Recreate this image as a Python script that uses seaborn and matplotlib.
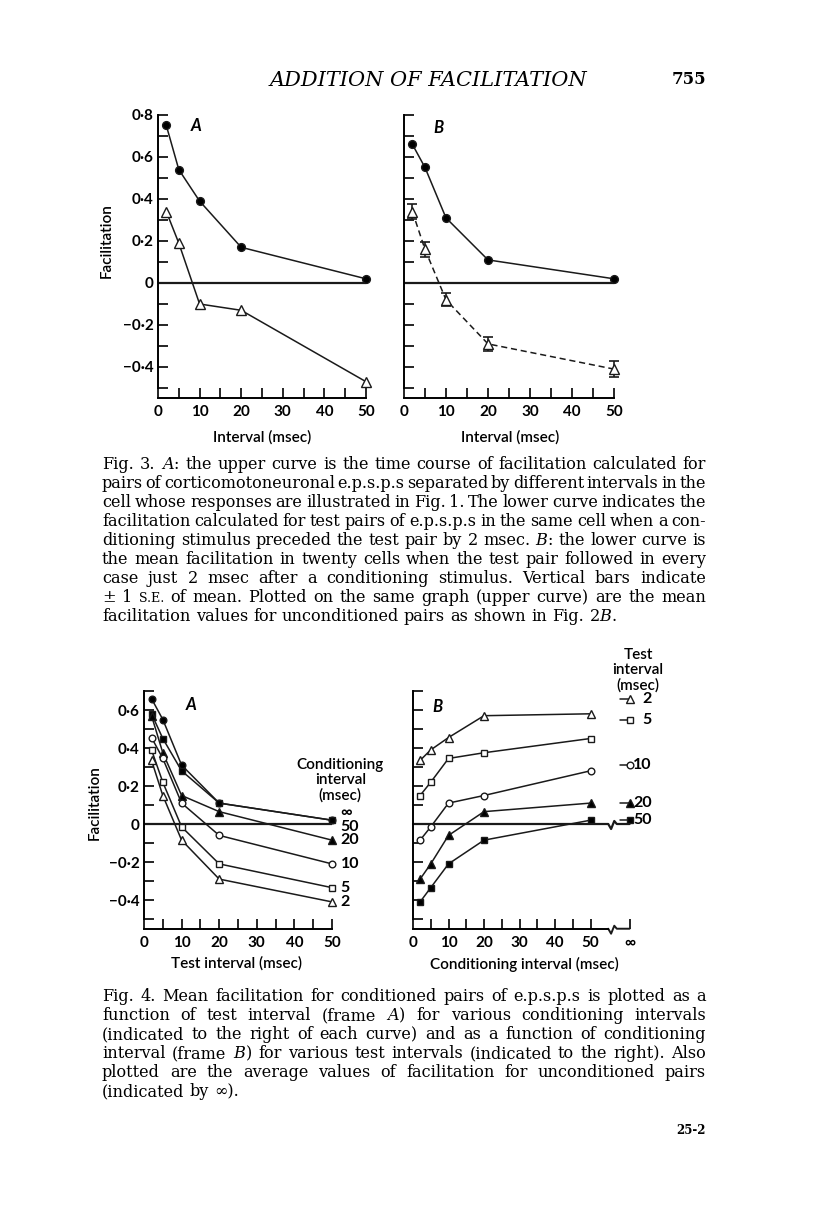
import numpy as np
import pandas as pd
import matplotlib
matplotlib.use("Agg")
import matplotlib.pyplot as plt
from matplotlib.ticker import FixedLocator, FuncFormatter
from matplotlib.font_manager import FontProperties
import seaborn as sns

# ---------------------------------------------------------------
# 1. Data (facilitation values)
# ---------------------------------------------------------------
intervals = [2, 5, 10, 20, 50]  # msec

# Fig. 3A -- one cell: unconditioned pairs vs. pairs conditioned 2 msec before
fig3a_unconditioned = [0.75, 0.54, 0.39, 0.17, 0.02]
fig3a_conditioned = [0.34, 0.19, -0.10, -0.13, -0.47]

# Fig. 3B -- mean of twenty cells, lower curve with +/- 1 s.e.
fig3b_unconditioned = [0.66, 0.55, 0.31, 0.11, 0.02]
fig3b_conditioned = [0.34, 0.16, -0.08, -0.29, -0.41]
fig3b_se = [0.035, 0.035, 0.03, 0.035, 0.04]

# Fig. 4 -- one row per conditioning interval, columns = test intervals
cond_intervals = [np.inf, 50, 20, 10, 5, 2]
cond_names = ["∞", "50", "20", "10", "5", "2"]
fac_cond_inf = [0.66, 0.55, 0.31, 0.11, 0.02]
fac_cond_50 = [0.58, 0.45, 0.28, 0.11, 0.02]
fac_cond_20 = [0.57, 0.375, 0.15, 0.065, -0.085]
fac_cond_10 = [0.455, 0.345, 0.11, -0.06, -0.21]
fac_cond_5 = [0.39, 0.22, -0.015, -0.21, -0.335]
fac_cond_2 = [0.335, 0.15, -0.085, -0.29, -0.41]
fac_rows = [fac_cond_inf, fac_cond_50, fac_cond_20, fac_cond_10, fac_cond_5, fac_cond_2]

fig4 = pd.DataFrame(
    [(c, t, v) for c, row in zip(cond_intervals, fac_rows) for t, v in zip(intervals, row)],
    columns=["cond", "test", "fac"],
)

# same symbol for a given interval in both frames of Fig. 4
marker_style = {
    2: ("^", "white"), 5: ("s", "white"), 10: ("o", "white"),
    20: ("^", "black"), 50: ("s", "black"), np.inf: ("o", "black"),
}

fig3_caption = [
    r"Fig. 3. $\mathit{A}$: the upper curve is the time course of facilitation calculated for",
    "pairs of corticomotoneuronal e.p.s.p.s separated by different intervals in the",
    "cell whose responses are illustrated in Fig. 1. The lower curve indicates the",
    "facilitation calculated for test pairs of e.p.s.p.s in the same cell when a con-",
    r"ditioning stimulus preceded the test pair by 2 msec. $\mathit{B}$: the lower curve is",
    "the mean facilitation in twenty cells when the test pair followed in every",
    "case just 2 msec after a conditioning stimulus. Vertical bars indicate",
    "± 1 S.E. of mean. Plotted on the same graph (upper curve) are the mean",
    r"facilitation values for unconditioned pairs as shown in Fig. 2$\mathit{B}$.",
]
fig4_caption = [
    "Fig. 4. Mean facilitation for conditioned pairs of e.p.s.p.s is plotted as a",
    r"function of test interval (frame $\mathit{A}$) for various conditioning intervals",
    "(indicated to the right of each curve) and as a function of conditioning",
    r"interval (frame $\mathit{B}$) for various test intervals (indicated to the right). Also",
    "plotted are the average values of facilitation for unconditioned pairs",
    "(indicated by ∞).",
]

# ---------------------------------------------------------------
# 2. Style and page helpers
# ---------------------------------------------------------------
sns.set_theme(style="ticks")
plt.rcParams["font.family"] = ["Lato", "DejaVu Sans"]
plt.rcParams["mathtext.fontset"] = "custom"
plt.rcParams["mathtext.rm"] = "DejaVu Serif"
plt.rcParams["mathtext.it"] = "DejaVu Serif:italic"
for key in ["text.color", "axes.labelcolor", "xtick.color", "ytick.color", "axes.edgecolor"]:
    plt.rcParams[key] = "black"

W, H = 816, 1215
fig = plt.figure(figsize=(W / 100, H / 100), dpi=100)
fig.patch.set_facecolor("white")


def page_text(x, y, s, **kw):
    return fig.text(x / W, 1 - y / H, s, **kw)


def page_axes(x0, x1, ytop, ybot):
    return fig.add_axes([x0 / W, 1 - ybot / H, (x1 - x0) / W, (ybot - ytop) / H])


def fac_label(v, pos):
    k = int(round(v * 10))
    if k % 2:
        return ""
    if k == 0:
        return "0"
    return ("−" if k < 0 else "") + "0·%d" % abs(k)


def frame(ax, ymin, ymax, show_y=True, xmax=50, xticks=None, xlabels=None):
    ax.set_xlim(0, xmax)
    ax.set_ylim(ymin, ymax)
    sns.despine(ax=ax, offset={"bottom": 7})
    ax.spines["left"].set_bounds(ymin, ymax)
    ax.spines["bottom"].set_bounds(0, 50)
    for side in ("left", "bottom"):
        ax.spines[side].set_linewidth(1.4)
    ax.yaxis.set_major_locator(FixedLocator(np.round(np.arange(ymin, ymax + 0.01, 0.1), 1)))
    ax.yaxis.set_major_formatter(FuncFormatter(fac_label if show_y else (lambda v, p: "")))
    if xticks is None:
        xticks = list(range(0, 51, 5))
        xlabels = [str(t) if t % 10 == 0 else "" for t in xticks]
    ax.set_xticks(xticks, labels=xlabels)
    ax.tick_params(direction="in", length=7, width=1.2, labelsize=11)
    ax.tick_params(axis="y", pad=3)
    ax.tick_params(axis="x", pad=5)
    plt.setp(ax.get_xticklabels() + ax.get_yticklabels(), fontweight="bold")
    ax.set_facecolor("none")


LINE = dict(color="k", lw=1.1, markeredgecolor="k", markeredgewidth=1.0,
            clip_on=False, zorder=3, errorbar=None)
MS = {"o": 4.8, "s": 4.4, "^": 5.6}
LABEL = dict(fontsize=11, fontweight="semibold")

# ---------------------------------------------------------------
# 3. Fig. 3A
# ---------------------------------------------------------------
ax3a = page_axes(158, 366, 115, 388)
frame(ax3a, -0.5, 0.8)
ax3a.axhline(0, color="k", lw=1.6, zorder=1)
sns.lineplot(x=intervals, y=fig3a_unconditioned, ax=ax3a, marker="o", ms=5.6, mfc="black", **LINE)
sns.lineplot(x=intervals, y=fig3a_conditioned, ax=ax3a, marker="^", ms=7, mfc="white", **LINE)
ax3a.set_ylabel("Facilitation", **LABEL)
ax3a.yaxis.set_label_coords(-0.215, 0.54)
ax3a.set_xlabel("Interval (msec)", **LABEL)
ax3a.xaxis.set_label_coords(0.5, -0.155)
page_text(196, 126, "A", fontsize=12, fontweight="bold", style="italic", ha="center", va="center")

# ---------------------------------------------------------------
# 4. Fig. 3B
# ---------------------------------------------------------------
ax3b = page_axes(404, 614, 115, 388)
frame(ax3b, -0.5, 0.8, show_y=False)
ax3b.axhline(0, color="k", lw=1.6, zorder=1)
sns.lineplot(x=intervals, y=fig3b_unconditioned, ax=ax3b, marker="o", ms=5.6, mfc="black", **LINE)
ax3b.errorbar(intervals, fig3b_conditioned, yerr=fig3b_se, fmt="none", ecolor="k",
              elinewidth=1.2, capsize=3.5, capthick=1.2, zorder=2, clip_on=False)
sns.lineplot(x=intervals, y=fig3b_conditioned, ax=ax3b, marker="^", ms=6.5, mfc="white",
             linestyle=(0, (4, 2.5)), **LINE)
ax3b.set_ylabel("")
ax3b.set_xlabel("Interval (msec)", **LABEL)
ax3b.xaxis.set_label_coords(0.505, -0.155)
page_text(438, 128, "B", fontsize=12, fontweight="bold", style="italic", ha="center", va="center")

# ---------------------------------------------------------------
# 5. Fig. 4A -- facilitation vs. test interval, one curve per conditioning interval
# ---------------------------------------------------------------
ax4a = page_axes(144, 332, 691, 919)
frame(ax4a, -0.5, 0.7)
ax4a.axhline(0, color="k", lw=1.6, zorder=1)
label_offset = {np.inf: 0.04, 50: -0.035}
for c, name in zip(cond_intervals, cond_names):
    m, fc = marker_style[c]
    sub = fig4[fig4["cond"] == c]
    sns.lineplot(data=sub, x="test", y="fac", ax=ax4a, marker=m, ms=MS[m], mfc=fc, **LINE)
    ax4a.text(52.3, sub["fac"].iloc[-1] + label_offset.get(c, 0), name,
              ha="left", va="center", fontsize=11.5, fontweight="bold")
ax4a.text(52.2, 0.23, "Conditioning\ninterval\n(msec)", ha="center", va="center",
          linespacing=1.1, **LABEL)
ax4a.set_ylabel("Facilitation", **LABEL)
ax4a.yaxis.set_label_coords(-0.225, 0.51)
ax4a.set_xlabel("Test interval (msec)", **LABEL)
ax4a.xaxis.set_label_coords(0.49, -0.165)
page_text(191, 705, "A", fontsize=12, fontweight="bold", style="italic", ha="center", va="center")

# ---------------------------------------------------------------
# 6. Fig. 4B -- facilitation vs. conditioning interval, one curve per test interval
# ---------------------------------------------------------------
INF_X = 61.0      # where the "infinite" conditioning interval sits on the broken axis
BREAK_X = 55.0
ax4b = page_axes(413, 413 + 62 * 3.55, 691, 919)
xt = list(range(0, 51, 5)) + [INF_X]
frame(ax4b, -0.5, 0.7, show_y=False, xmax=62, xticks=xt,
      xlabels=[str(t) if t % 10 == 0 else "" for t in xt[:-1]] + ["∞"])
ax4b.spines["bottom"].set_bounds(0, BREAK_X)

# axis break on the x axis and on the zero line
brk_x = BREAK_X + np.array([0, 0.8, 1.7, 2.4])
brk_px = np.array([0, -5, 3, 0])
spine_tr = ax4b.spines["bottom"].get_spine_transform()
ax4b.plot(np.r_[brk_x, INF_X], np.r_[brk_px, 0] / 228, transform=spine_tr,
          color="k", lw=1.4, clip_on=False)
ax4b.plot(np.r_[0, brk_x, INF_X], np.r_[0, brk_px / 190, 0], color="k", lw=1.6,
          clip_on=False, zorder=1)

for t in intervals:
    m, fc = marker_style[t]
    sub = fig4[(fig4["test"] == t) & np.isfinite(fig4["cond"])]
    sns.lineplot(data=sub, x="cond", y="fac", ax=ax4b, marker=m, ms=MS[m], mfc=fc, **LINE)
    inf_val = fig4.loc[(fig4["test"] == t) & ~np.isfinite(fig4["cond"]), "fac"].item()
    ax4b.plot([INF_X - 2.6, INF_X], [inf_val, inf_val], color="k", lw=1.1, marker=m,
              markevery=[1], ms=MS[m], mfc=fc, mec="k", mew=1.0, clip_on=False, zorder=3)
    ax4b.text(67.2, inf_val, str(t), ha="right", va="center", fontsize=11.5, fontweight="bold")
ax4b.text(63.4, 0.81, "Test\ninterval\n(msec)", ha="center", va="center",
          linespacing=1.1, **LABEL)
ax4b.set_ylabel("")
ax4b.set_xlabel("Conditioning interval (msec)", **LABEL)
ax4b.xaxis.set_label_coords(0.505, -0.165)
page_text(437, 707, "B", fontsize=12, fontweight="bold", style="italic", ha="center", va="center")

# ---------------------------------------------------------------
# 7. Running head, captions, signature
# ---------------------------------------------------------------
page_text(428, 80, "ADDITION OF FACILITATION", family="DejaVu Serif", style="italic",
          fontsize=15, ha="center", va="center")
page_text(706, 80, "755", family="DejaVu Serif", fontweight="bold", fontsize=12,
          ha="right", va="center")
page_text(706, 1130, "25-2", family="DejaVu Serif", fontweight="bold", fontsize=8.5,
          ha="right", va="center")

renderer = fig.canvas.get_renderer()
SMALL_CAPS = {"S.E."}
CAP_X0, CAP_X1 = 102, 706


def word_widths(words, size):
    out = []
    for w in words:
        prop = FontProperties(family="DejaVu Serif", size=size * (0.78 if w in SMALL_CAPS else 1))
        out.append((prop, renderer.get_text_width_height_descent(w, prop, ismath="$" in w)[0]))
    return out


# caption size: typical line fills the measure, the fullest one still fits
base = 10.0
em = base * 100 / 72
natural, tight = [], []
for para in (fig3_caption, fig4_caption):
    for line in para[:-1]:
        ww = word_widths(line.split(), base)
        ink = sum(w for _, w in ww)
        natural.append(ink + 0.32 * em * (len(ww) - 1))
        tight.append(ink + 0.14 * em * (len(ww) - 1))
target = CAP_X1 - CAP_X0
cap_size = base * min(0.985 * target / np.median(natural), target / max(tight))


def set_paragraph(lines, y_first, dy=19):
    space = 0.32 * cap_size * 100 / 72
    for i, line in enumerate(lines):
        words = line.split()
        ww = word_widths(words, cap_size)
        if i == len(lines) - 1:
            gap = space
        else:
            gap = (target - sum(w for _, w in ww)) / (len(words) - 1)
        x = CAP_X0
        for word, (prop, wd) in zip(words, ww):
            page_text(x, y_first + i * dy, word, fontproperties=prop, ha="left", va="baseline")
            x += wd + gap


set_paragraph(fig3_caption, 469)
set_paragraph(fig4_caption, 1001)

fig.savefig("out.png", dpi=100, facecolor="white")
